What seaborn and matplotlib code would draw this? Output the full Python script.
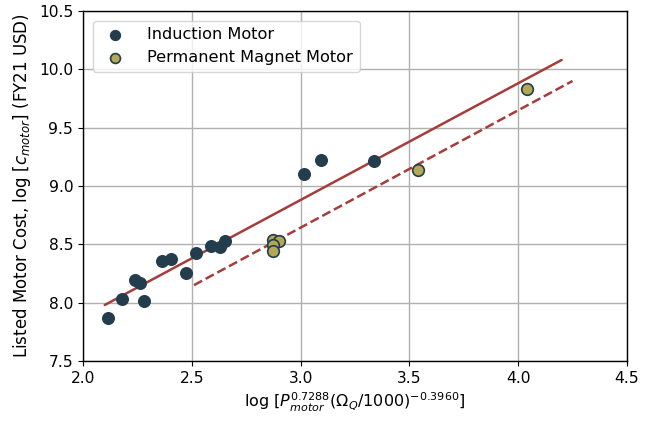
import numpy as np
import pandas as pd
import matplotlib
matplotlib.use("Agg")
import matplotlib.pyplot as plt
import seaborn as sns

# induction motor data (log scale values)
im_x = [2.115, 2.179, 2.239, 2.262, 2.280, 2.363, 2.404, 2.473, 2.519, 2.588, 2.630, 2.653, 3.016, 3.094, 3.337]
im_y = [7.87, 8.03, 8.19, 8.17, 8.015, 8.355, 8.37, 8.25, 8.425, 8.485, 8.475, 8.525, 9.10, 9.225, 9.21]

# permanent magnet motor data
pm_x = [2.873, 2.900, 2.873, 2.873, 3.540, 4.040]
pm_y = [8.535, 8.525, 8.490, 8.440, 9.140, 9.830]

# fit lines (end points)
fit_x = [2.10, 4.20]
fit_y = [7.98, 10.08]
pm_fit_x = [2.51, 4.25]
pm_fit_y = [8.15, 9.90]

df = pd.DataFrame({
    "x": im_x + pm_x,
    "y": im_y + pm_y,
    "type": ["Induction Motor"] * len(im_x) + ["Permanent Magnet Motor"] * len(pm_x),
})

sns.set_style("whitegrid")
plt.rcParams['font.family'] = ['DejaVu Sans']
plt.rcParams['text.color'] = 'black'
plt.rcParams['axes.labelcolor'] = 'black'
plt.rcParams['xtick.color'] = 'black'
plt.rcParams['ytick.color'] = 'black'

fig, ax = plt.subplots(figsize=(6.51, 4.21), dpi=100)
fig.subplots_adjust(left=0.1275, right=0.963, top=0.974, bottom=0.1425)

line_col = "#a63d3b"
sns.lineplot(x=fit_x, y=fit_y, color=line_col, lw=1.8, ax=ax)
sns.lineplot(x=pm_fit_x, y=pm_fit_y, color=line_col, lw=1.8, ls="--", ax=ax)

sns.scatterplot(data=df[df.type == "Induction Motor"], x="x", y="y", color="#233d4d",
                edgecolor="#233d4d", linewidth=1, s=70, label="Induction Motor", ax=ax, zorder=3)
sns.scatterplot(data=df[df.type == "Permanent Magnet Motor"], x="x", y="y", color="#b3a853",
                edgecolor="#233d4d", linewidth=1.2, s=70, label="Permanent Magnet Motor", ax=ax, zorder=3)

ax.set_xlim(2.0, 4.5)
ax.set_ylim(7.5, 10.5)
ax.set_xticks([2.0, 2.5, 3.0, 3.5, 4.0, 4.5])
ax.set_yticks([7.5, 8.0, 8.5, 9.0, 9.5, 10.0, 10.5])
ax.grid(True, color="#b0b0b0", lw=1)
for s in ax.spines.values():
    s.set_color("black")
    s.set_linewidth(1)
ax.tick_params(axis="both", length=3.5, width=0.8, color="black", labelsize=11.2, bottom=True, left=True)

ax.set_xlabel(r"$\log\,[P_{motor}^{0.7288}(\Omega_Q/1000)^{-0.3960}]$", fontsize=11.5)
ax.set_ylabel(r"Listed Motor Cost, $\log\,[c_{motor}]$ (FY21 USD)", fontsize=12)

ax.legend(loc="upper left", fontsize=11.6, frameon=True, markerscale=0.85,
          handletextpad=1.0, borderaxespad=0.6)

fig.savefig("out.png", dpi=100)
